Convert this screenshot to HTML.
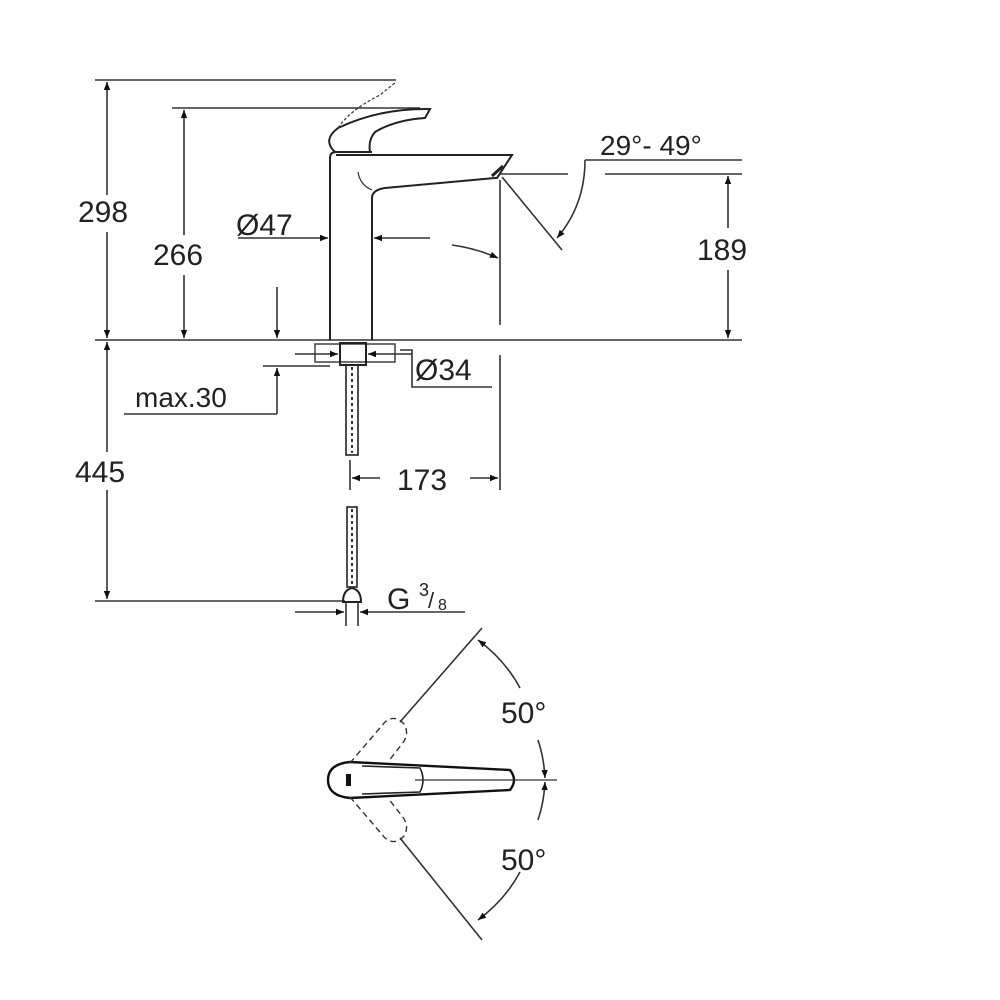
<!DOCTYPE html>
<html><head><style>
html,body{margin:0;padding:0;background:#fff;}
svg{display:block;}
text{font-family:"Liberation Sans",sans-serif;fill:#222;}
</style></head><body>
<svg width="1000" height="1000" viewBox="0 0 1000 1000" xmlns="http://www.w3.org/2000/svg">
<defs>
<marker id="a" viewBox="0 0 10 10" refX="10" refY="5" markerWidth="16" markerHeight="8" markerUnits="userSpaceOnUse" orient="auto-start-reverse"><path d="M0,1 L10,5 L0,9 z" fill="#111"/></marker>
</defs>
<g stroke="#333" stroke-width="1.6" fill="none">
<line x1="95" y1="80" x2="396" y2="80"/>
<line x1="172" y1="108" x2="420" y2="108"/>
<line x1="95" y1="340" x2="742" y2="340"/>
<line x1="95" y1="601" x2="345" y2="601"/>
<line x1="107" y1="82" x2="107" y2="195" marker-start="url(#a)"/>
<line x1="107" y1="232" x2="107" y2="338" marker-end="url(#a)"/>
<line x1="107" y1="342" x2="107" y2="452" marker-start="url(#a)"/>
<line x1="107" y1="490" x2="107" y2="599" marker-end="url(#a)"/>
<line x1="184" y1="110" x2="184" y2="235" marker-start="url(#a)"/>
<line x1="184" y1="275" x2="184" y2="338" marker-end="url(#a)"/>
<line x1="277" y1="287" x2="277" y2="338" marker-end="url(#a)"/>
<line x1="263" y1="366" x2="330" y2="366"/>
<line x1="277" y1="414" x2="277" y2="368" marker-end="url(#a)"/>
<line x1="124" y1="414" x2="277" y2="414"/>
<path d="M330,340 L330,158 Q330,152 336,152 L372,152 M372,340 L372,198 Q372,190 385,188 L495,178" stroke="#222" stroke-width="2"/>
<path d="M336,155 L512,155 L497,178 L495,178" stroke="#222" stroke-width="2"/>
<path d="M492,176 L503,166" stroke="#222" stroke-width="3"/>
<path d="M358,172 Q360,185 372,190" stroke-width="1.2"/>
<path d="M335,152 Q322,140 338,128 Q380,108 430,109 L425,118 Q395,120 375,132 Q368,140 370,152" stroke="#222" stroke-width="2"/>
<path d="M338,128 Q350,110 380,95 L396,82" stroke-width="1.2" stroke-dasharray="3,2"/>
<line x1="238" y1="238" x2="328" y2="238" marker-end="url(#a)"/>
<line x1="430" y1="238" x2="374" y2="238" marker-end="url(#a)"/>
<path d="M452,245 Q475,248 498,258" marker-end="url(#a)"/>
<line x1="500" y1="180" x2="500" y2="325"/>
<line x1="500" y1="355" x2="500" y2="490"/>
<line x1="350" y1="460" x2="350" y2="490"/>
<line x1="380" y1="478" x2="352" y2="478" marker-end="url(#a)"/>
<line x1="470" y1="478" x2="498" y2="478" marker-end="url(#a)"/>
<line x1="500" y1="174" x2="568" y2="174"/>
<line x1="605" y1="174" x2="742" y2="174"/>
<line x1="585" y1="160" x2="742" y2="160"/>
<line x1="502" y1="177" x2="562" y2="250"/>
<path d="M585,160 Q585,205 557,238" marker-end="url(#a)"/>
<line x1="728" y1="228" x2="728" y2="176" marker-end="url(#a)"/>
<line x1="728" y1="270" x2="728" y2="338" marker-end="url(#a)"/>
<rect x="315" y="344" width="80" height="18" stroke-width="1.4"/>
<rect x="340" y="343" width="26" height="22" stroke="#222" stroke-width="2"/>
<line x1="295" y1="354" x2="338" y2="354" marker-end="url(#a)"/>
<line x1="412" y1="354" x2="368" y2="354" marker-end="url(#a)"/>
<path d="M400,350 L412,350 L412,387 L492,387"/>
<rect x="346" y="365" width="12" height="90" stroke="#222" stroke-width="1.6"/>
<line x1="352" y1="367" x2="352" y2="453" stroke-dasharray="3,3" stroke-width="2"/>
<rect x="347" y="507" width="10" height="80" stroke="#222"/>
<line x1="352" y1="509" x2="352" y2="585" stroke-dasharray="3,3" stroke-width="2"/>
<path d="M343,602 Q343,590 352,588 Q361,590 361,602 Z" stroke="#222" stroke-width="2"/>
<line x1="346" y1="602" x2="346" y2="626"/>
<line x1="358" y1="602" x2="358" y2="626"/>
<line x1="295" y1="612" x2="344" y2="612" marker-end="url(#a)"/>
<line x1="465" y1="612" x2="360" y2="612" marker-end="url(#a)"/>
<path d="M350,762 L510,770 Q518,780 510,790 L350,798 Q328,796 328,780 Q328,764 350,762 Z" stroke="#111" stroke-width="2.4"/>
<path d="M362,766 L420,768 Q426,780 420,792 L362,794" stroke="#222" stroke-width="1.6"/>
<rect x="346" y="774" width="5" height="12" fill="#111" stroke="none"/>
<line x1="415" y1="780" x2="557" y2="780" stroke-width="1.2"/>
<g stroke-dasharray="6,4" stroke-width="1.4">
<path d="M350,763 L385,722 Q395,714 404,724 Q410,734 402,744 L388,762"/>
<path d="M350,797 L385,838 Q395,846 404,836 Q410,826 402,816 L388,798"/>
</g>
<line x1="400" y1="722" x2="482" y2="628"/>
<line x1="400" y1="838" x2="482" y2="940"/>
<path d="M520,688 Q505,660 478,640" marker-end="url(#a)"/>
<path d="M538,740 Q544,758 545,778" marker-end="url(#a)"/>
<path d="M538,820 Q544,802 545,782" marker-end="url(#a)"/>
<path d="M520,872 Q505,900 478,920" marker-end="url(#a)"/>
</g>
<g font-size="30">
<text x="78" y="222">298</text>
<text x="153" y="265">266</text>
<text x="236" y="235">Ø47</text>
<text x="600" y="155" font-size="28">29°- 49°</text>
<text x="697" y="260">189</text>
<text x="135" y="407" font-size="28">max.30</text>
<text x="415" y="380">Ø34</text>
<text x="75" y="482">445</text>
<text x="397" y="490">173</text>
<text x="387" y="609">G</text>
<text x="419" y="596" font-size="18">3</text>
<text x="428" y="608" font-size="22">/</text>
<text x="438" y="610" font-size="16">8</text>
<text x="501" y="723">50°</text>
<text x="501" y="870">50°</text>
</g>
</svg>
</body></html>
